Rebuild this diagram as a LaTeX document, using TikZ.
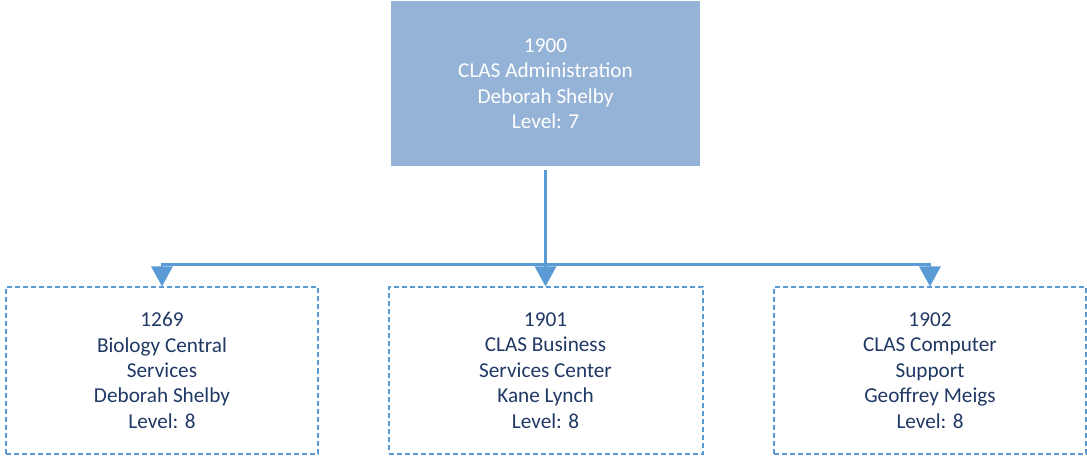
\documentclass[tikz,border=0pt]{standalone}
\usepackage{fontspec}
\setmainfont{Carlito}
\usetikzlibrary{positioning,arrows.meta}

\definecolor{headfill}{RGB}{149,179,215}
\definecolor{linkblue}{RGB}{91,155,213}
\definecolor{unittext}{RGB}{31,56,100}

\tikzset{
    unitfont/.style={font=\fontsize{21.3}{25.5}\selectfont, align=center},
    headbox/.style={unitfont, fill=headfill, text=white, inner sep=0pt,
        minimum width=309bp, minimum height=165bp},
    unitbox/.style={unitfont, draw=linkblue, line width=2bp,
        dash pattern=on 5bp off 3bp, text=unittext, inner sep=0pt,
        minimum width=312bp, minimum height=166bp},
    link/.style={linkblue, line width=2.8bp,
        -{Triangle[width=21bp, length=20bp]}}
}

\begin{document}
\begin{tikzpicture}[x=1bp, y=-1bp]
    \useasboundingbox (0,0) rectangle (1087,456);

    % 上层单位
    \node[headbox] (admin) at (545.5,83.5)
        {1900\\CLAS Administration\\Deborah Shelby\\Level: 7};

    % 下层单位
    \node[unitbox] (bio) at (162,370.5)
        {1269\\Biology Central\\Services\\Deborah Shelby\\Level: 8};
    \node[unitbox, minimum width=314bp] (biz) at (545.5,370.5)
        {1901\\CLAS Business\\Services Center\\Kane Lynch\\Level: 8};
    \node[unitbox] (comp) at (930,370.5)
        {1902\\CLAS Computer\\Support\\Geoffrey Meigs\\Level: 8};

    % 连线
    \path (admin.south) ++(0,98) coordinate (bus);
    \draw[link, shorten <=4bp] (admin.south) -- (biz.north);
    \draw[link] (bus) -| (bio.north);
    \draw[link] (bus) -| (comp.north);

\end{tikzpicture}
\end{document}
